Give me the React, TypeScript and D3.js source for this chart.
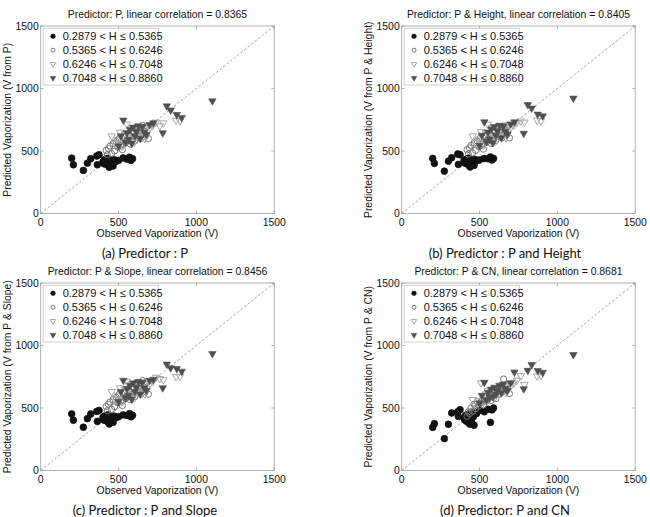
import React from "react";
import * as d3 from "d3";

// ---- data (observed V, shared by all panels) ----
const obs1 = [199, 210, 274, 300, 321, 360, 375, 364, 400, 405, 410, 415, 420, 425, 430, 435, 440, 445, 450, 455, 460, 465, 472, 480, 500, 530, 555, 570, 580, 590];
const obs2 = [420, 428, 435, 445, 455, 465, 475, 485, 495, 505, 515, 525, 535, 545, 555, 565, 575, 585, 595, 605, 615, 625, 635, 645, 655, 668, 680, 692];
const obs3 = [456, 475, 495, 510, 525, 540, 553, 565, 578, 590, 602, 615, 628, 640, 655, 670, 688, 702, 720, 740, 765, 788, 870, 895];
const obs4 = [500, 515, 531, 545, 555, 565, 575, 585, 595, 605, 615, 628, 640, 652, 665, 680, 700, 724, 784, 810, 835, 874, 906, 1103];

// ---- predicted V per panel ----
const predA1 = [443, 390, 345, 403, 438, 460, 470, 390, 415, 400, 430, 395, 420, 405, 440, 385, 370, 410, 395, 425, 405, 380, 430, 415, 425, 445, 435, 450, 425, 438];
const predA2 = [505, 470, 520, 540, 480, 560, 500, 575, 530, 600, 545, 510, 620, 565, 590, 640, 555, 660, 600, 580, 690, 625, 665, 600, 705, 640, 700, 600];
const predA3 = [620, 560, 590, 650, 540, 640, 714, 600, 680, 620, 570, 665, 610, 690, 655, 600, 700, 687, 705, 730, 700, 724, 745, 740];
const predA4 = [540, 620, 746, 570, 645, 590, 670, 560, 690, 620, 655, 700, 600, 695, 650, 630, 710, 724, 644, 860, 826, 791, 767, 900];

const predB1 = [441, 401, 339, 419, 446, 476, 470, 393, 420, 405, 432, 398, 418, 410, 442, 380, 372, 412, 398, 428, 408, 385, 432, 420, 428, 440, 438, 452, 428, 440];
const predB2 = [510, 475, 525, 545, 485, 565, 505, 580, 535, 605, 550, 515, 625, 570, 595, 645, 560, 665, 605, 585, 695, 630, 670, 605, 700, 645, 705, 605];
const predB3 = [620, 565, 595, 655, 545, 645, 714, 605, 685, 625, 575, 668, 615, 692, 660, 605, 705, 690, 708, 727, 740, 730, 745, 740];
const predB4 = [545, 625, 732, 575, 650, 595, 675, 565, 695, 625, 660, 705, 605, 698, 655, 635, 715, 732, 641, 870, 842, 794, 780, 922];

const predC1 = [452, 402, 346, 415, 452, 473, 480, 393, 425, 405, 435, 400, 422, 410, 445, 385, 372, 415, 398, 430, 410, 385, 435, 420, 430, 445, 440, 455, 430, 442];
const predC2 = [512, 478, 530, 548, 490, 568, 510, 585, 540, 610, 555, 520, 630, 575, 600, 650, 565, 670, 610, 590, 700, 635, 675, 610, 720, 650, 710, 610];
const predC3 = [630, 570, 600, 660, 550, 650, 713, 610, 690, 630, 580, 672, 620, 698, 665, 610, 710, 695, 712, 745, 735, 726, 750, 753];
const predC4 = [550, 630, 721, 580, 655, 600, 680, 570, 700, 630, 665, 710, 610, 705, 660, 640, 720, 728, 660, 850, 820, 814, 793, 934];

const predD1 = [345, 374, 255, 370, 460, 470, 487, 433, 420, 405, 440, 395, 410, 450, 380, 420, 370, 400, 385, 460, 430, 362, 470, 455, 480, 470, 490, 385, 485, 500];
const predD2 = [433, 470, 455, 500, 475, 530, 495, 550, 515, 540, 560, 525, 590, 555, 570, 610, 560, 625, 600, 575, 650, 610, 665, 625, 732, 640, 690, 615];
const predD3 = [567, 520, 560, 700, 545, 610, 640, 580, 630, 600, 590, 650, 615, 665, 640, 625, 690, 680, 700, 720, 758, 686, 755, 758];
const predD4 = [540, 600, 705, 565, 625, 585, 650, 590, 665, 610, 640, 680, 620, 690, 655, 640, 700, 787, 652, 800, 846, 798, 785, 926];

const ticks = [0, 500, 1000, 1500];
const legendLabels = [
  "0.2879 < H \u2264 0.5365",
  "0.5365 < H \u2264 0.6246",
  "0.6246 < H \u2264 0.7048",
  "0.7048 < H \u2264 0.8860",
];
const titles = [
  "Predictor: P, linear correlation = 0.8365",
  "Predictor: P & Height, linear correlation = 0.8405",
  "Predictor: P & Slope, linear correlation = 0.8456",
  "Predictor: P & CN, linear correlation = 0.8681",
];
const yLabels = [
  "Predicted Vaporization (V from P)",
  "Predicted Vaporization (V from P & Height)",
  "Predicted Vaporization (V from P & Slope)",
  "Predicted Vaporization (V from P & CN)",
];
const captions = [
  "(a) Predictor : P",
  "(b) Predictor : P and Height",
  "(c) Predictor : P and Slope",
  "(d) Predictor: P and CN",
];
const preds = [
  [predA1, predA2, predA3, predA4],
  [predB1, predB2, predB3, predB4],
  [predC1, predC2, predC3, predC4],
  [predD1, predD2, predD3, predD4],
];
const obsAll = [obs1, obs2, obs3, obs4];

const FONT = "'Liberation Sans', Arial, sans-serif";
const CAP_FONT = "Lato, 'Open Sans', sans-serif";
const COLX = [40.7, 401.7];
const ROWY = [26, 283];
const PW = 233.5;
const PH = 187.5;
const CAPX = [145, 505];

const triBig = d3.symbol().type(d3.symbolTriangle).size(24)()!;
const triSmall = d3.symbol().type(d3.symbolTriangle).size(13)()!;

function Marker({ cls, x, y, small }: { cls: number; x: number; y: number; small?: boolean }) {
  const r = small ? 2.3 : 3.4;
  if (cls === 0) return <circle cx={x} cy={y} r={r} fill="#111" stroke="#111" strokeWidth={0.6} />;
  if (cls === 1) return <circle cx={x} cy={y} r={r - 0.3} fill="none" stroke="#777" strokeWidth={1} />;
  const path = small ? triSmall : triBig;
  if (cls === 2)
    return <path d={path} transform={`translate(${x},${y}) rotate(180)`} fill="none" stroke="#a8a8a8" strokeWidth={1} />;
  return <path d={path} transform={`translate(${x},${y}) rotate(180)`} fill="#4f4f4f" stroke="#4f4f4f" strokeWidth={0.6} />;
}

function Panel({ idx }: { idx: number }) {
  const col = idx % 2;
  const row = Math.floor(idx / 2);
  const left = COLX[col];
  const top = ROWY[row];
  const x = d3.scaleLinear().domain([0, 1500]).range([left, left + PW]);
  const y = d3.scaleLinear().domain([0, 1500]).range([top + PH, top]);
  const bottom = top + PH;
  const right = left + PW;
  const cx = (left + right) / 2;
  const cy = (top + bottom) / 2;
  const line = d3.line<number>().x((d) => x(d)).y((d) => y(d));
  return (
    <g>
      <text x={cx} y={top - 8} textAnchor="middle" fontFamily={FONT} fontSize={10.4} fill="#111">
        {titles[idx]}
      </text>
      <rect x={left} y={top} width={PW} height={PH} fill="white" stroke="#a0a0a0" strokeWidth={0.8} />
      {ticks.map((t) => (
        <g key={"t" + t}>
          <line x1={x(t)} x2={x(t)} y1={bottom} y2={bottom - 3} stroke="#a0a0a0" strokeWidth={0.8} />
          <line x1={x(t)} x2={x(t)} y1={top} y2={top + 3} stroke="#a0a0a0" strokeWidth={0.8} />
          <line x1={left} x2={left + 3} y1={y(t)} y2={y(t)} stroke="#a0a0a0" strokeWidth={0.8} />
          <line x1={right} x2={right - 3} y1={y(t)} y2={y(t)} stroke="#a0a0a0" strokeWidth={0.8} />
          <text x={x(t)} y={bottom + 12} textAnchor="middle" fontFamily={FONT} fontSize={10.4} fill="#111">
            {t}
          </text>
          <text x={left - 2} y={y(t)} dy="0.35em" textAnchor="end" fontFamily={FONT} fontSize={10.4} fill="#111">
            {t}
          </text>
        </g>
      ))}
      <path d={line([0, 1500]) || ""} stroke="#8a8a8a" strokeWidth={0.8} strokeDasharray="2.5,2" fill="none" />
      {obsAll.map((ob, c) =>
        ob.map((v, j) => <Marker key={c + "-" + j} cls={c} x={x(v)} y={y(preds[idx][c][j])} />)
      )}
      <rect x={left + 2.5} y={top + 2.3} width={115.5} height={56.7} fill="white" stroke="#c8c8c8" strokeWidth={0.8} />
      {legendLabels.map((lab, k) => (
        <g key={lab}>
          <Marker cls={k} x={left + 12.3} y={top + 10.3 + k * 13.9} small />
          <text x={left + 22} y={top + 10.3 + k * 13.9} dy="0.36em" fontFamily={FONT} fontSize={11} fill="#111">
            {lab}
          </text>
        </g>
      ))}
      <text x={cx} y={bottom + 23.5} textAnchor="middle" fontFamily={FONT} fontSize={10.4} fill="#111">
        Observed Vaporization (V)
      </text>
      <text
        transform={`translate(${left - 33},${cy}) rotate(-90)`}
        textAnchor="middle"
        dy="0.35em"
        fontFamily={FONT}
        fontSize={10.4}
        fill="#111"
      >
        {yLabels[idx]}
      </text>
      <text x={CAPX[col]} y={bottom + 44} textAnchor="middle" fontFamily={CAP_FONT} fontSize={13} fill="#111">
        {captions[idx]}
      </text>
    </g>
  );
}

export default function App() {
  return (
    <svg
      width={650}
      height={517}
      viewBox="0 0 650 517"
      style={{ position: "absolute", left: 0, top: 0, background: "white" }}
    >
      <rect width={650} height={517} fill="white" />
      {[0, 1, 2, 3].map((i) => (
        <Panel key={i} idx={i} />
      ))}
    </svg>
  );
}
